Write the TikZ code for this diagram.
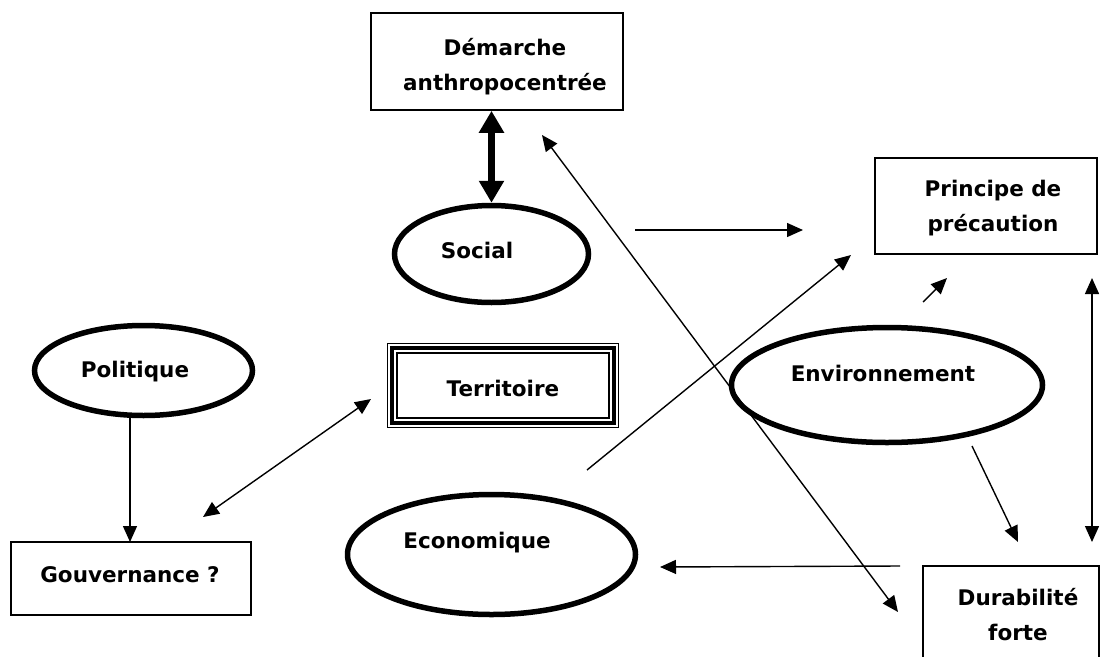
\documentclass[tikz,border=0pt]{standalone}
\usepackage{fontspec}
\setmainfont{DejaVu Sans}
\usetikzlibrary{arrows.meta,shapes.geometric}
\begin{document}
\begin{tikzpicture}[x=1pt,y=-1pt,
  box/.style={draw, line width=1.6pt, inner sep=0pt},
  oval/.style={draw, ellipse, line width=5.5pt, inner sep=0pt},
  lbl/.style={font=\bfseries\fontsize{21.5}{35}\selectfont, inner sep=0pt, align=center},
  arr/.style={line width=1.4pt, -{Triangle[length=16pt,width=14pt]}},
  darr/.style={line width=1.4pt, {Triangle[length=16pt,width=14pt]}-{Triangle[length=16pt,width=14pt]}},
  bigarr/.style={line width=6.5pt, {Triangle[length=22pt,width=24pt]}-{Triangle[length=22pt,width=24pt]}}
]
\useasboundingbox (0,0) rectangle (1102,656);
\clip (0,0) rectangle (1102,656);

% boxes
\node[box, minimum width=252pt, minimum height=97pt] (dem) at (497,61.5) {};
\node[lbl] (demt) at (505,67) {Démarche\\anthropocentrée};

\node[box, minimum width=222pt, minimum height=96pt] (pri) at (986,206) {};
\node[lbl] (prit) at (993,208) {Principe de\\précaution};

\node[box, minimum width=240pt, minimum height=73pt] (gou) at (131,578.5) {};
\node[lbl] (gout) at (130,575) {Gouvernance ?};

\node[box, minimum width=176pt, minimum height=140pt] (dur) at (1011,636) {};
\node[lbl] (durt) at (1018,615) {Durabilité\\forte};

% Territoire: triple border
\node[draw, line width=1.3pt, minimum width=231pt, minimum height=84pt, inner sep=0pt] (ter) at (503,385.5) {};
\node[draw, line width=3.5pt, minimum width=222pt, minimum height=75pt, inner sep=0pt] (ter2) at (ter.center) {};
\node[draw, line width=1.3pt, minimum width=212pt, minimum height=65pt, inner sep=0pt] (ter3) at (ter.center) {};
\node[lbl] (tert) at (503,388) {Territoire};

% ellipses
\node[oval, minimum width=194pt, minimum height=97pt] (soc) at (491.5,254) {};
\node[lbl] (soct) at (477,250) {Social};

\node[oval, minimum width=218pt, minimum height=90pt] (pol) at (143.5,370.5) {};
\node[lbl] (polt) at (135,372) {Politique};

\node[oval, minimum width=288pt, minimum height=120pt] (eco) at (491.5,554.5) {};
\node[lbl] (ecot) at (477,543) {Economique};

\node[oval, minimum width=311pt, minimum height=115pt] (env) at (887,385) {};
\node[lbl] (envt) at (883,373) {Environnement};

% free ends of connectors
\coordinate (s1) at (635,230);
\coordinate (s2) at (803,230);
\coordinate (l1) at (542,135);
\coordinate (l2) at (898,612);
\coordinate (e1) at (587,470);
\coordinate (e2) at (851,255);
\coordinate (m1) at (923,302);
\coordinate (m2) at (947,278);
\coordinate (v1) at (1092,278);
\coordinate (v2) at (1092,542);
\coordinate (n1) at (972,446);
\coordinate (n2) at (1018,542);
\coordinate (d1) at (900,566);
\coordinate (d2) at (660,567);
\coordinate (g1) at (203,517);
\coordinate (g2) at (371,399);
\coordinate (p1) at (130,418);
\coordinate (p2) at (130,542);

% connectors
\draw[bigarr] (dem.south -| soc.north) -- (soc.north);
\draw[arr] (s1) -- (s2);
\draw[darr] (l1) -- (l2);
\draw[arr] (e1) -- (e2);
\draw[arr] (m1) -- (m2);
\draw[darr] (v1) -- (v2);
\draw[arr] (n1) -- (n2);
\draw[arr] (d1) -- (d2);
\draw[darr] (g1) -- (g2);
\draw[arr] (p1) -- (p2);
\end{tikzpicture}
\end{document}
